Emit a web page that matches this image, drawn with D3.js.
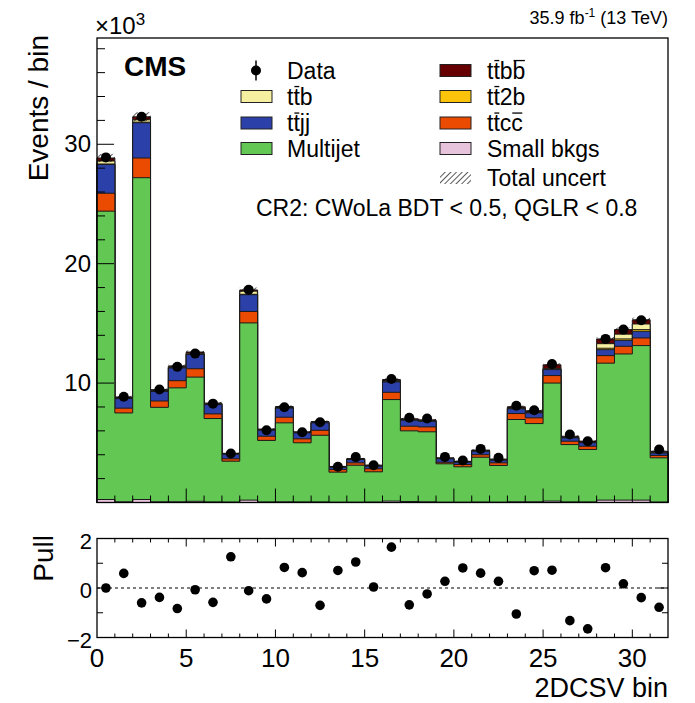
<!DOCTYPE html>
<html>
<head>
<meta charset="utf-8">
<script src="https://cdn.jsdelivr.net/npm/d3@7"></script>
<style>
  body { margin: 0; background: #fff; }
  text { font-family: "Liberation Sans", Arial, Helvetica, sans-serif; fill: #000; }
</style>
</head>
<body>
<div id="chart"></div>
<script>
// values in units of 10^3 events, one per 2DCSV bin (0..31)
var bins = d3.range(32);
var smallBkg = [0.25,0.06,0.25,0.06,0.06,0.1,0.05,0.04,0.2,0.05,0.06,0.05,0.05,0.03,0.03,0.04,0.12,0.08,0.06,0.03,0.03,0.04,0.03,0.06,0.06,0.12,0.05,0.05,0.2,0.2,0.2,0.04];
var multijet = [24.15,7.44,26.95,7.91,9.54,10.4,6.98,3.42,14.84,5.15,6.61,4.95,5.58,2.51,3.09,2.53,8.5,5.92,5.86,3.21,2.96,3.75,3.07,6.89,6.55,9.88,4.8,4.39,11.47,12.24,12.94,3.7];
var ttcc = [1.5,0.4,1.65,0.53,0.6,0.7,0.39,0.2,0.96,0.35,0.47,0.33,0.42,0.22,0.2,0.25,0.61,0.39,0.41,0.13,0.19,0.21,0.22,0.5,0.48,0.63,0.28,0.27,0.63,0.64,0.64,0.2];
var ttjj = [2.4,0.8,2.95,0.8,1.07,1.2,0.78,0.38,1.4,0.5,0.76,0.5,0.62,0.19,0.28,0.22,0.87,0.5,0.47,0.29,0.19,0.29,0.22,0.39,0.41,0.5,0.28,0.29,0.5,0.5,0.56,0.2];
var tt2b = [0.05,0.01,0.05,0.01,0.02,0.02,0.01,0.01,0.04,0.01,0.01,0.01,0.01,0.01,0.01,0.01,0.02,0.01,0.01,0.01,0.01,0.01,0.01,0.02,0.02,0.03,0.01,0.01,0.12,0.12,0.14,0.02];
var ttb = [0.25,0.05,0.2,0.06,0.07,0.08,0.05,0.02,0.26,0.03,0.05,0.03,0.04,0.02,0.02,0.02,0.08,0.04,0.04,0.02,0.02,0.02,0.02,0.06,0.06,0.07,0.03,0.03,0.38,0.4,0.47,0.05];
var ttbb = [0.25,0.08,0.25,0.08,0.08,0.1,0.07,0.05,0.1,0.06,0.08,0.05,0.06,0.04,0.05,0.06,0.1,0.07,0.07,0.05,0.05,0.07,0.06,0.1,0.1,0.3,0.1,0.1,0.4,0.38,0.35,0.08];
var uncert = [0.35,0.1,0.38,0.1,0.12,0.13,0.1,0.06,0.2,0.08,0.1,0.08,0.09,0.05,0.06,0.05,0.12,0.09,0.09,0.06,0.06,0.07,0.06,0.1,0.1,0.14,0.08,0.08,0.16,0.17,0.18,0.07];
var dataVals = [28.9,8.85,32.3,9.46,11.36,12.47,8.28,4.1,17.82,6.05,7.98,5.88,6.72,3.0,3.8,3.12,10.35,7.09,7.03,3.82,3.51,4.49,3.74,8.1,7.73,11.6,5.69,5.13,13.7,14.48,15.26,4.44];
var pull = [0,0.59,-0.6,-0.38,-0.83,-0.07,-0.58,1.26,-0.11,-0.44,0.83,0.62,-0.7,0.71,1.05,0.04,1.65,-0.68,-0.24,0.27,0.81,0.6,0.27,-1.05,0.7,0.72,-1.32,-1.65,0.82,0.17,-0.39,-0.78];
var yTickLabels = [10, 20, 30];
var pullTickLabels = [-2, 0, 2];
var xTickLabels = [0, 5, 10, 15, 20, 25, 30];

// stack order bottom -> top
var layers = [
  {name: "Small bkgs", vals: smallBkg, color: "#e8c4dc"},
  {name: "Multijet", vals: multijet, color: "#63c853"},
  {name: "ttcc", vals: ttcc, color: "#ea4b00"},
  {name: "ttjj", vals: ttjj, color: "#2c40aa"},
  {name: "tt2b", vals: tt2b, color: "#fcc30b"},
  {name: "ttb", vals: ttb, color: "#f6efa0"},
  {name: "ttbb", vals: ttbb, color: "#660000"}
];

var width = 695, height = 703;
var L = 97, R = 668, T = 38, B = 502.5;
var PT = 538.5, PB = 637.5;

var svg = d3.select("#chart").append("svg")
  .attr("width", width).attr("height", height);

var defs = svg.append("defs");
var pat = defs.append("pattern").attr("id", "hatch")
  .attr("patternUnits", "userSpaceOnUse").attr("width", 4).attr("height", 4)
  .attr("patternTransform", "rotate(45)");
pat.append("line").attr("x1", 0).attr("y1", 0).attr("x2", 0).attr("y2", 4)
  .attr("stroke", "#000").attr("stroke-width", 1.3);

var x = d3.scaleLinear().domain([0, 32]).range([L, R]);
var y = d3.scaleLinear().domain([0, 38.9]).range([B, T]);
var yp = d3.scaleLinear().domain([-2, 2]).range([PB, PT]);

// cumulative sums
var cum = [];
var run = bins.map(function(){ return 0; });
layers.forEach(function(l){
  run = run.map(function(v, i){ return v + l.vals[i]; });
  cum.push(run.slice());
});

function stepPoints(lo, hi){
  var pts = [];
  bins.forEach(function(i){
    pts.push({x: i, lo: lo[i], hi: hi[i]});
    pts.push({x: i + 1, lo: lo[i], hi: hi[i]});
  });
  return pts;
}

var area = d3.area()
  .x(function(d){ return x(d.x); })
  .y0(function(d){ return y(d.lo); })
  .y1(function(d){ return y(d.hi); });

var zeros = bins.map(function(){ return 0; });

// draw cumulative histograms largest first (ROOT stack style)
for (var k = layers.length - 1; k >= 0; k--) {
  svg.append("path")
    .attr("d", area(stepPoints(zeros, cum[k])))
    .attr("fill", layers[k].color)
    .attr("stroke", "#1a1a1a")
    .attr("stroke-width", 1);
}

// uncertainty band
var total = cum[cum.length - 1];
bins.forEach(function(i){
  svg.append("rect")
    .attr("x", x(i)).attr("width", x(i + 1) - x(i))
    .attr("y", y(total[i] + uncert[i]))
    .attr("height", y(total[i] - uncert[i]) - y(total[i] + uncert[i]))
    .attr("fill", "url(#hatch)");
});

// data points
svg.selectAll(".dat").data(bins).enter().append("circle")
  .attr("cx", function(i){ return x(i + 0.5); })
  .attr("cy", function(i){ return y(dataVals[i]); })
  .attr("r", 5).attr("fill", "#000");

// main frame
svg.append("rect").attr("x", L).attr("y", T).attr("width", R - L).attr("height", B - T)
  .attr("fill", "none").attr("stroke", "#000").attr("stroke-width", 1.3);

// y ticks main
d3.range(2, 39, 2).forEach(function(v){
  var major = v % 10 === 0;
  svg.append("line").attr("x1", L).attr("x2", L + (major ? 17 : 8))
    .attr("y1", y(v)).attr("y2", y(v)).attr("stroke", "#000");
});
svg.selectAll(".ylab").data(yTickLabels).enter().append("text")
  .attr("x", L - 6).attr("y", function(d){ return y(d) + 8; })
  .attr("text-anchor", "end").attr("font-size", 24).text(function(d){ return d; });

// x ticks main
d3.range(1, 32).forEach(function(v){
  var major = v % 5 === 0;
  svg.append("line").attr("x1", x(v)).attr("x2", x(v))
    .attr("y1", B).attr("y2", B - (major ? 14 : 7)).attr("stroke", "#000");
});

// axis titles main
svg.append("text").attr("transform", "translate(48,35) rotate(-90)")
  .attr("text-anchor", "end").attr("font-size", 28).text("Events / bin");
var e3 = svg.append("text").attr("x", 95).attr("y", 34).attr("font-size", 24);
e3.append("tspan").text("\u00d710");
e3.append("tspan").attr("dy", -9).attr("font-size", 17).text("3");

var lum = svg.append("text").attr("x", R).attr("y", 24).attr("text-anchor", "end").attr("font-size", 18);
lum.append("tspan").text("35.9 fb");
lum.append("tspan").attr("dy", -7).attr("font-size", 12).text("-1");
lum.append("tspan").attr("dy", 7).text(" (13 TeV)");

svg.append("text").attr("x", 124).attr("y", 76).attr("font-size", 28)
  .attr("font-weight", "bold").text("CMS");

// legend; "~" marks the next character as carrying a bar
var legFont = 23;
function barText(tx, ty, str){
  var chars = [], bars = [];
  for (var i = 0; i < str.length; i++) {
    if (str[i] === "~") { bars.push(chars.length); continue; }
    chars.push(str[i]);
  }
  var t = svg.append("text").attr("x", tx).attr("y", ty).attr("font-size", legFont).text(chars.join(""));
  var node = t.node();
  bars.forEach(function(ci){
    var ext = node.getExtentOfChar(ci);
    svg.append("line")
      .attr("x1", ext.x + 1).attr("x2", ext.x + ext.width - 0.5)
      .attr("y1", ty - legFont * 0.78).attr("y2", ty - legFont * 0.78)
      .attr("stroke", "#000").attr("stroke-width", 1.3);
  });
}
var col1 = [
  {y: 70.5, label: "Data", marker: true},
  {y: 96.5, label: "t~tb", color: "#f6efa0"},
  {y: 123, label: "t~tjj", color: "#2c40aa"},
  {y: 148.5, label: "Multijet", color: "#63c853"}
];
var col2 = [
  {y: 70.5, label: "t~tb~b", color: "#660000"},
  {y: 96.5, label: "t~t2b", color: "#fcc30b"},
  {y: 123, label: "t~tc~c", color: "#ea4b00"},
  {y: 148.5, label: "Small bkgs", color: "#e8c4dc"},
  {y: 178, label: "Total uncert", hatch: true}
];
function drawLegend(items, bx, tx){
  items.forEach(function(it){
    if (it.marker) {
      svg.append("line").attr("x1", bx + 15).attr("x2", bx + 15)
        .attr("y1", it.y - 10).attr("y2", it.y + 10).attr("stroke", "#000").attr("stroke-width", 1.5);
      svg.append("circle").attr("cx", bx + 15).attr("cy", it.y).attr("r", 5).attr("fill", "#000");
    } else if (it.hatch) {
      svg.append("rect").attr("x", bx).attr("y", it.y - 6).attr("width", 31).attr("height", 12)
        .attr("fill", "url(#hatch)");
    } else {
      svg.append("rect").attr("x", bx).attr("y", it.y - 6).attr("width", 31).attr("height", 12)
        .attr("fill", it.color).attr("stroke", "#222").attr("stroke-width", 1);
    }
    barText(tx, it.y + 8, it.label);
  });
}
drawLegend(col1, 241, 287);
drawLegend(col2, 440, 487);

svg.append("text").attr("x", 256).attr("y", 216).attr("font-size", legFont)
  .text("CR2: CWoLa BDT < 0.5, QGLR < 0.8");

// pull panel
svg.append("line").attr("x1", L).attr("x2", R).attr("y1", yp(0)).attr("y2", yp(0))
  .attr("stroke", "#000").attr("stroke-dasharray", "3,3").attr("stroke-width", 1);
svg.selectAll(".pull").data(bins).enter().append("circle")
  .attr("cx", function(i){ return x(i + 0.5); })
  .attr("cy", function(i){ return yp(pull[i]); })
  .attr("r", 4.8).attr("fill", "#000");

svg.append("rect").attr("x", L).attr("y", PT).attr("width", R - L).attr("height", PB - PT)
  .attr("fill", "none").attr("stroke", "#000").attr("stroke-width", 1.3);

d3.range(1, 32).forEach(function(v){
  var len = v % 5 === 0 ? 8 : 4;
  svg.append("line").attr("x1", x(v)).attr("x2", x(v)).attr("y1", PB).attr("y2", PB - len).attr("stroke", "#000");
  svg.append("line").attr("x1", x(v)).attr("x2", x(v)).attr("y1", PT).attr("y2", PT + len).attr("stroke", "#000");
});
[-1, 0, 1].forEach(function(v){
  var len = v === 0 ? 10 : 6;
  svg.append("line").attr("x1", L).attr("x2", L + len).attr("y1", yp(v)).attr("y2", yp(v)).attr("stroke", "#000");
  svg.append("line").attr("x1", R).attr("x2", R - len).attr("y1", yp(v)).attr("y2", yp(v)).attr("stroke", "#000");
});

svg.selectAll(".plab").data(pullTickLabels).enter().append("text")
  .attr("x", L - 5).attr("y", function(d){ return yp(d) + 10; })
  .attr("text-anchor", "end").attr("font-size", 22)
  .text(function(d){ return d < 0 ? "\u2212" + Math.abs(d) : d; });

svg.selectAll(".xlab").data(xTickLabels).enter().append("text")
  .attr("x", function(d){ return x(d); }).attr("y", 667)
  .attr("text-anchor", "middle").attr("font-size", 26)
  .text(function(d){ return d; });

svg.append("text").attr("transform", "translate(53,535) rotate(-90)")
  .attr("text-anchor", "end").attr("font-size", 28).text("Pull");

svg.append("text").attr("x", R).attr("y", 697).attr("text-anchor", "end")
  .attr("font-size", 27).text("2DCSV bin");
</script>
</body>
</html>
